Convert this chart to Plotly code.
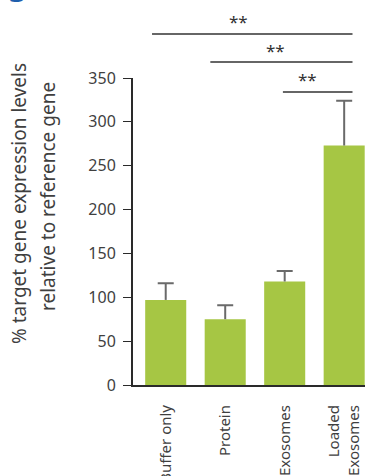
import plotly.graph_objects as go

categories = ["Buffer only", "Protein", "Exosomes", "Loaded<br>Exosomes"]
values = [97, 75, 118, 273]
errors = [19, 16, 12, 51]
sig_labels = ["**", "**", "**"]

W, H = 366, 476
ML, MR, MT, MB = 133, 1, 78, 91
XMIN, XMAX = -0.55, 3.35
YMAX = 350
FONT = "Noto Sans"
TXT = "#3f3f3f"
GREEN = "#a6c644"
ERRC = "#6a6a6a"

plot_h = H - MT - MB
plot_w = W - ML - MR
unit_px = plot_w / (XMAX - XMIN)

def px_x(pixel):
    return (pixel - ML) / plot_w

def px_y(pixel):
    return (H - MB - pixel) / plot_h

def cat_x(c):
    return (c - XMIN) / (XMAX - XMIN)

xs = list(range(len(categories)))

fig = go.Figure()
fig.add_trace(go.Bar(
    x=xs, y=values, width=0.69, marker=dict(color=GREEN, line=dict(width=0)),
    showlegend=False, name=""))
# error stems: thin bars from the mean up by the error, capped at the top
fig.add_trace(go.Bar(
    x=xs, y=errors, base=values, width=2 / unit_px,
    marker=dict(color=ERRC, line=dict(width=0)),
    error_y=dict(type="data", array=[0] * len(errors), arrayminus=[0] * len(errors),
                 symmetric=False, color=ERRC, thickness=2, width=8),
    hoverinfo="skip", showlegend=False))

# significance brackets (category units, paper y)
brackets = [(-0.23, 3.14, 34, 1.22, 22), (0.75, 3.14, 62, 1.84, 51), (1.97, 3.14, 92, 2.39, 79)]
for (x0, x1, ly, sx, sy), lab in zip(brackets, sig_labels):
    fig.add_shape(type="line", xref="paper", yref="paper",
                  x0=cat_x(x0), x1=cat_x(x1), y0=px_y(ly), y1=px_y(ly),
                  line=dict(color="#333333", width=1.3))
    fig.add_annotation(text=lab, xref="paper", yref="paper", x=cat_x(sx), y=px_y(sy),
                       xanchor="center", yanchor="middle", showarrow=False,
                       font=dict(family=FONT, size=17, color="#333333"))

# y axis title (two lines)
fig.add_annotation(text="% target gene expression levels", xref="paper", yref="paper",
                   x=px_x(19), y=px_y(204), textangle=-90, showarrow=False,
                   xanchor="center", yanchor="middle",
                   font=dict(family=FONT, size=19, color=TXT))
fig.add_annotation(text="relative to reference gene", xref="paper", yref="paper",
                   x=px_x(48), y=px_y(197), textangle=-90, showarrow=False,
                   xanchor="center", yanchor="middle",
                   font=dict(family=FONT, size=19, color=TXT))

# panel letter, cut off at the top
fig.add_annotation(text="<b>g</b>", xref="paper", yref="paper",
                   x=px_x(17), y=px_y(-16.5), showarrow=False,
                   xanchor="center", yanchor="middle",
                   font=dict(family=FONT, size=30, color="#1f5fad"))

fig.update_layout(
    width=W, height=H, margin=dict(l=ML, r=MR, t=MT, b=MB, autoexpand=False),
    paper_bgcolor="white", plot_bgcolor="white", barmode="overlay",
    font=dict(family=FONT, color=TXT),
    xaxis=dict(range=[XMIN, XMAX], tickvals=xs, ticktext=categories, tickangle=-90,
               showline=True, linecolor="#2a2a2a", linewidth=2, ticks="",
               showgrid=False, zeroline=False, ticklabelstandoff=12, automargin=False,
               tickfont=dict(family=FONT, size=15, color=TXT)),
    yaxis=dict(range=[0, YMAX], tickvals=[0, 50, 100, 150, 200, 250, 300, 350],
               showline=True, linecolor="#2a2a2a", linewidth=2, ticks="outside",
               ticklen=8, tickwidth=1.3, tickcolor="#2a2a2a", showgrid=False,
               zeroline=False, ticklabelstandoff=4, automargin=False,
               tickfont=dict(family=FONT, size=16, color=TXT)),
)

fig.write_html("out.html")
